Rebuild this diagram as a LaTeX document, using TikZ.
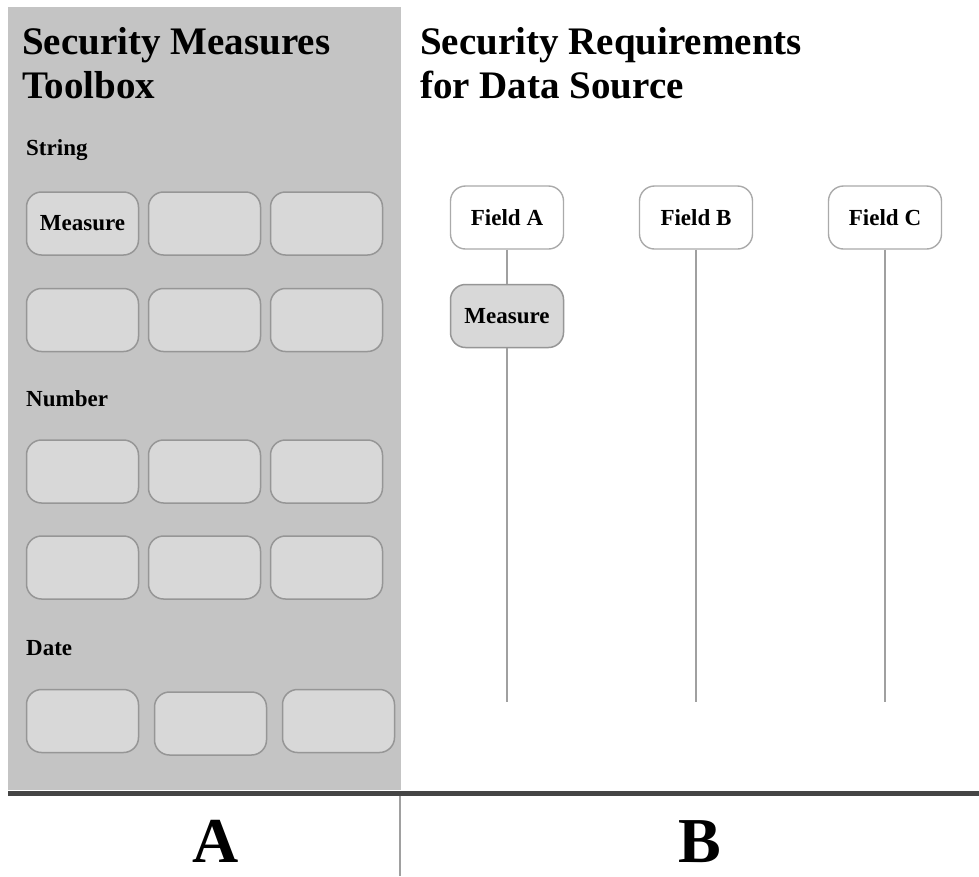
\documentclass[tikz,border=0pt]{standalone}
\usepackage{fontspec}
\setmainfont{Liberation Serif}
\definecolor{panelgray}{HTML}{C4C4C4}
\definecolor{tilefill}{HTML}{D8D8D8}
\definecolor{tileedge}{HTML}{969696}
\definecolor{fieldedge}{HTML}{AAAAAA}
\definecolor{rulegray}{HTML}{454545}
\definecolor{stemgray}{HTML}{A0A0A0}
\tikzset{
  tile/.style={draw=tileedge, fill=tilefill, line width=1.5pt, rounded corners=15pt,
    minimum width=112pt, minimum height=63pt, inner sep=0pt,
    font=\fontsize{23}{26}\selectfont\bfseries},
  fieldbox/.style={draw=fieldedge, fill=white, line width=1.4pt, rounded corners=15pt,
    minimum width=113pt, minimum height=63pt, inner sep=0pt,
    font=\fontsize{23}{26}\selectfont\bfseries},
  heading/.style={anchor=base west, inner sep=0pt, font=\fontsize{39}{44}\selectfont\bfseries},
  group/.style={anchor=base west, inner sep=0pt, font=\fontsize{23}{26}\selectfont\bfseries},
  panelmark/.style={anchor=base, inner sep=0pt, font=\fontsize{64}{70}\selectfont\bfseries},
  stem/.style={draw=stemgray, line width=1.1pt}
}
\begin{document}
\begin{tikzpicture}[x=1pt,y=-1pt]
\useasboundingbox (0,0) rectangle (979,876);
\fill[white] (0,0) rectangle (979,876);

% toolbox panel
\fill[panelgray] (8,7) rectangle (401,790);
\node[heading] (t1) at (22,54) {Security Measures};
\node[heading] (t2) at (22,98) {Toolbox};

\node[group] (gs) at (26,155) {String};
\node[tile] (s1) at (82.5,223.5) {Measure};
\node[tile] (s2) at (204.5,223.5) {};
\node[tile] (s3) at (326.5,223.5) {};
\node[tile] (s4) at (82.5,320) {};
\node[tile] (s5) at (204.5,320) {};
\node[tile] (s6) at (326.5,320) {};

\node[group] (gn) at (26,406) {Number};
\node[tile] (n1) at (82.5,471.5) {};
\node[tile] (n2) at (204.5,471.5) {};
\node[tile] (n3) at (326.5,471.5) {};
\node[tile] (n4) at (82.5,567.5) {};
\node[tile] (n5) at (204.5,567.5) {};
\node[tile] (n6) at (326.5,567.5) {};

\node[group] (gd) at (26,655) {Date};
\node[tile] (d1) at (82.5,721) {};
\node[tile] (d2) at (210.5,723.5) {};
\node[tile] (d3) at (338.5,721) {};

% requirements side
\node[heading] (r1) at (420,54) {Security Requirements};
\node[heading] (r2) at (420,98) {for Data Source};

\node[fieldbox] (fa) at (507,217.5) {Field A};
\node[fieldbox] (fb) at (696,217.5) {Field B};
\node[fieldbox] (fc) at (885,217.5) {Field C};
\node[tile, minimum width=113pt] (m) at (507,316) {Measure};

\coordinate (ea) at (507,702);
\coordinate (eb) at (696,702);
\coordinate (ec) at (885,702);
\draw[stem] (fa.south) -- (m.north);
\draw[stem] (m.south) -- (ea);
\draw[stem] (fb.south) -- (eb);
\draw[stem] (fc.south) -- (ec);

% bottom rule and panel labels
\coordinate (rl) at (8,793.5);
\coordinate (rr) at (979,793.5);
\draw[rulegray, line width=5pt] (rl) -- (rr);
\coordinate (vt) at (400,796);
\coordinate (vb) at (400,876);
\draw[stemgray, line width=1.1pt] (vt) -- (vb);
\node[panelmark] (la) at (216,862) {A};
\node[panelmark] (lb) at (700,862) {B};
\end{tikzpicture}
\end{document}
